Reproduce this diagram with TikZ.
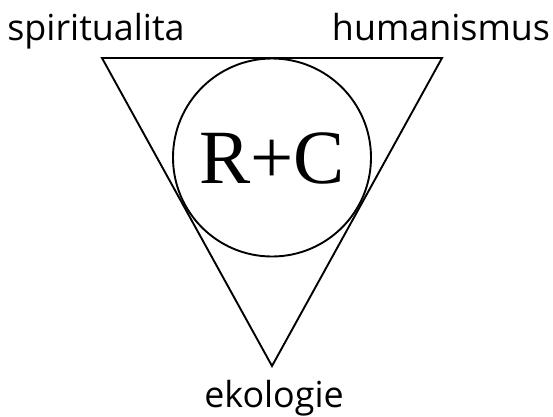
\documentclass[tikz,border=0pt]{standalone}
\usepackage{fontspec}
\setmainfont{Open Sans}
\newfontfamily\rcfont{Liberation Serif}
\begin{document}
\begin{tikzpicture}[x=1bp,y=-1bp,
  shape line/.style={line width=1.9bp, line join=miter},
  label text/.style={font=\fontsize{36}{36}\selectfont, inner sep=0pt, anchor=base}]
\useasboundingbox (0,0) rectangle (553,416);
\coordinate (tl) at (102,58);
\coordinate (tr) at (442,58);
\coordinate (bt) at (272,366);
\draw[shape line] (tl) -- (tr) -- (bt) -- cycle;
\node[shape line, draw, circle, minimum size=198bp, inner sep=0pt] (c) at (272,157.5) {};
\node[font=\rcfont\fontsize{77}{77}\selectfont, inner sep=0pt, anchor=base] (rc) at (272,183.5) {R+C};
\node[label text] (sp) at (96,40) {spiritualita};
\node[label text] (hu) at (441,40) {humanismus};
\node[label text] (ek) at (274,407) {ekologie};
\end{tikzpicture}
\end{document}
